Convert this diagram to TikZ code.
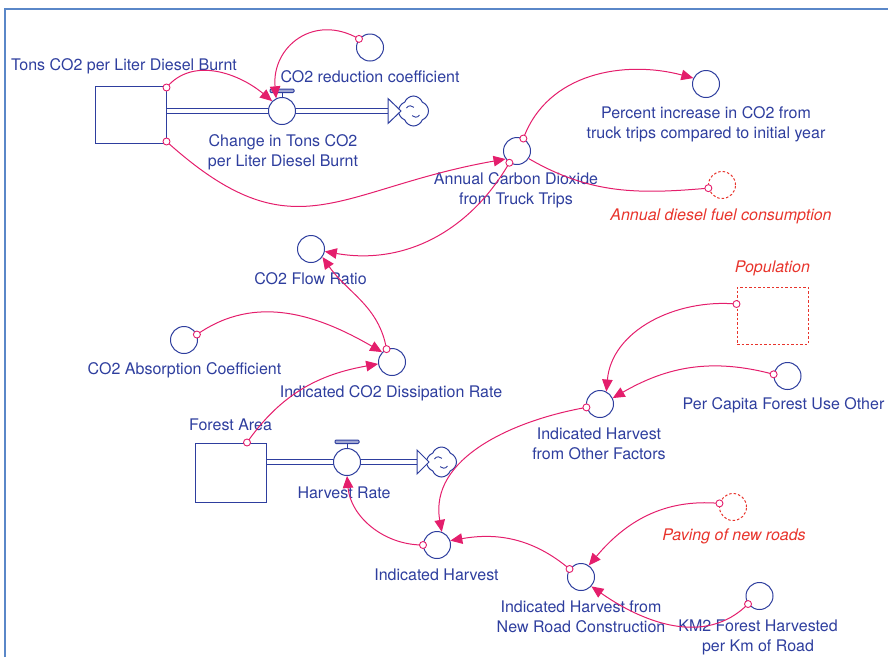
\documentclass[tikz,border=0pt]{standalone}
\usepackage{fontspec}
\setmainfont{TeX Gyre Heros}
\usetikzlibrary{arrows.meta,shapes.symbols}
\definecolor{sdblue}{RGB}{46,62,158}
\definecolor{sdlink}{RGB}{228,30,108}
\definecolor{sdred}{RGB}{232,52,44}
\definecolor{sdframe}{RGB}{90,135,200}
\begin{document}
\begin{tikzpicture}[x=1pt,y=1pt,
  every node/.style={font=\fontsize{16}{20}\selectfont},
  aux/.style={circle,draw=sdblue,line width=1pt,minimum size=27pt,inner sep=0pt},
  valve/.style={circle,draw=sdblue,line width=1pt,fill=white,minimum size=27pt,inner sep=0pt},
  ghostc/.style={circle,draw=sdred,line width=1pt,dash pattern=on 2.5pt off 2pt,minimum size=27pt,inner sep=0pt},
  stock/.style={rectangle,draw=sdblue,line width=1pt,inner sep=0pt},
  ghostbox/.style={rectangle,draw=sdred,line width=1pt,dash pattern=on 2.5pt off 2pt,inner sep=0pt},
  sink/.style={cloud,cloud puffs=4,cloud puff arc=140,aspect=1,draw=sdblue,line width=1pt,fill=white,minimum width=30pt,minimum height=30pt,inner sep=0pt},
  curl/.style={draw=sdblue,line width=0.9pt},
  lbl/.style={text=sdblue,align=center,inner sep=0pt},
  glbl/.style={text=sdred,align=center,inner sep=0pt,font=\fontsize{16}{20}\selectfont\itshape},
  pipe/.style={draw=sdblue,line width=1pt,double=white,double distance=3.5pt},
  link/.style={draw=sdlink,line width=1pt,-{Triangle[length=12pt,width=10.5pt]}},
  plainlink/.style={draw=sdlink,line width=1pt},
  tail/.style={draw=sdlink,line width=0.9pt,fill=white},
  handle/.style={draw=sdblue,line width=1pt,fill=sdblue!45,rounded corners=1pt}]

\useasboundingbox (0,0) rectangle (888,-657);
\draw[sdframe,line width=2pt] (4.5,-657) -- (4.5,-8.5) -- (888,-8.5);

% ---------- stocks ----------
\node[stock,minimum width=71pt,minimum height=57pt] (tons) at (130.5,-114.5) {};
\node[stock,minimum width=71pt,minimum height=59pt] (forest) at (230.5,-472.5) {};
\node[ghostbox,minimum width=71pt,minimum height=57pt] (pop) at (772.5,-315.5) {};

% ---------- flows ----------
\coordinate (tip1) at (388,-111);
\coordinate (tip2) at (417,-462);
\node[sink] (sink1) at (413.5,-111) {};
\node[sink] (sink2) at (441.5,-462) {};
\foreach \s in {sink1,sink2}{
  \draw[curl] (\s.center) ++(-7,3) arc (150:40:4.5);
  \draw[curl] (\s.center) ++(6,-4) arc (-30:-140:4.5);
}
\draw[pipe] (tons.east |- 0,-111) -- (282,-111);
\draw[pipe] (282,-111) -- (tip1);
\draw[sdblue,line width=1pt,fill=white] ([yshift=12.5pt]tip1) -- ([xshift=13pt]tip1) -- ([yshift=-12.5pt]tip1) -- cycle;
\draw[pipe] (forest.east |- 0,-462) -- (347,-462);
\draw[pipe] (347,-462) -- (tip2);
\draw[sdblue,line width=1pt,fill=white] ([yshift=12pt]tip2) -- ([xshift=12pt]tip2) -- ([yshift=-12pt]tip2) -- cycle;
\node[valve] (v1) at (282,-111) {};
\node[valve] (hr) at (347,-462) {};
\draw[sdblue,line width=1pt] (v1.north) -- ++(0,5.5);
\draw[handle] (270,-89) rectangle (294,-92.5);
\draw[sdblue,line width=1pt] (hr.north) -- ++(0,5.5);
\draw[handle] (335,-440) rectangle (359,-443.5);

% ---------- auxiliaries ----------
\node[aux] (coef) at (370,-47.5) {};
\node[aux] (acd) at (517,-151) {};
\node[aux] (pct) at (706,-84) {};
\node[ghostc] (diesel) at (722,-185) {};
\node[aux] (fr) at (311,-249) {};
\node[aux] (abs) at (184,-340) {};
\node[aux] (dis) at (392,-362) {};
\node[aux] (ih) at (437,-545) {};
\node[aux] (iho) at (600,-404) {};
\node[aux] (pc) at (787.5,-376) {};
\node[ghostc] (pav) at (733,-507) {};
\node[aux] (nrc) at (581,-577) {};
\node[aux] (km) at (759.5,-596) {};

% ---------- labels ----------
\node[lbl] (tons-l) at (124,-66) {Tons CO2 per Liter Diesel Burnt};
\node[lbl] (coef-l) at (370,-77) {CO2 reduction coefficient};
\node[lbl] (v1-l) at (283,-152) {Change in Tons CO2\\per Liter Diesel Burnt};
\node[lbl] (acd-l) at (516,-190) {Annual Carbon Dioxide\\from Truck Trips};
\node[lbl] (pct-l) at (706,-124) {Percent increase in CO2 from\\truck trips compared to initial year};
\node[glbl] (diesel-l) at (721,-216) {Annual diesel fuel consumption};
\node[lbl] (fr-l) at (310.5,-279) {CO2 Flow Ratio};
\node[lbl] (abs-l) at (184.5,-370) {CO2 Absorption Coefficient};
\node[lbl] (dis-l) at (391,-393) {Indicated CO2 Dissipation Rate};
\node[lbl] (forest-l) at (230.5,-425) {Forest Area};
\node[lbl] (hr-l) at (344,-493) {Harvest Rate};
\node[lbl] (ih-l) at (436.5,-575) {Indicated Harvest};
\node[lbl] (iho-l) at (599,-444) {Indicated Harvest\\from Other Factors};
\node[glbl] (pop-l) at (772.5,-268) {Population};
\node[lbl] (pc-l) at (783.5,-405) {Per Capita Forest Use Other};
\node[glbl] (pav-l) at (734,-536) {Paving of new roads};
\node[lbl] (nrc-l) at (581,-617) {Indicated Harvest from\\New Road Construction};
\node[lbl] (km-l) at (758,-637) {KM2 Forest Harvested\\per Km of Road};

% ---------- information links ----------
\coordinate (tonsA) at ([yshift=-2pt]tons.north east);
\coordinate (tonsB) at ([yshift=2pt]tons.south east);
\coordinate (forestA) at ([xshift=16.5pt]forest.north);
\coordinate (popA) at ([yshift=11.5pt]pop.west);

\draw[link] (tonsA) to[out=50,in=140] (v1.135);
\draw[link] (coef.142) to[out=150,in=95,looseness=1.3] (v1.115);
\draw[link] (tonsB) to[out=-42,in=190,looseness=1.3] (acd.215);
\draw[link] (acd.63) to[out=70,in=165] (pct.155);
\draw[plainlink] (diesel.193) to[out=185,in=-30] (acd.-33);
\draw[link] (acd.237) to[out=240,in=-10] (fr.-10);
\draw[link] (dis.113) to[out=100,in=-55] (fr.-35);
\draw[link] (abs.23) to[out=35,in=150] (dis.135);
\draw[link] (forestA) to[out=55,in=190] (dis.188);
\draw[link] (ih.180) to[out=180,in=-85] (hr.south);
\draw[link] (iho.194) to[out=190,in=100] (ih.70);
\draw[link] (popA) to[out=175,in=85] (iho.63);
\draw[link] (pc.173) to[out=165,in=30] (iho.25);
\draw[link] (nrc.145) to[out=140,in=10] (ih.18);
\draw[link] (pav.165) to[out=175,in=50] (nrc.56);
\draw[link] (km.215) to[out=225,in=-35] (nrc.-42);

% small link origins
\draw[tail] (tonsA) circle (3.5pt);
\draw[tail] (tonsB) circle (3.5pt);
\draw[tail] (coef.142) circle (3.5pt);
\draw[tail] (acd.63) circle (3.5pt);
\draw[tail] (diesel.193) circle (3.5pt);
\draw[tail] (acd.237) circle (3.5pt);
\draw[tail] (dis.113) circle (3.5pt);
\draw[tail] (abs.23) circle (3.5pt);
\draw[tail] (forestA) circle (3.5pt);
\draw[tail] (ih.180) circle (3.5pt);
\draw[tail] (iho.194) circle (3.5pt);
\draw[tail] (popA) circle (3.5pt);
\draw[tail] (pc.173) circle (3.5pt);
\draw[tail] (nrc.145) circle (3.5pt);
\draw[tail] (pav.165) circle (3.5pt);
\draw[tail] (km.215) circle (3.5pt);
\end{tikzpicture}
\end{document}
